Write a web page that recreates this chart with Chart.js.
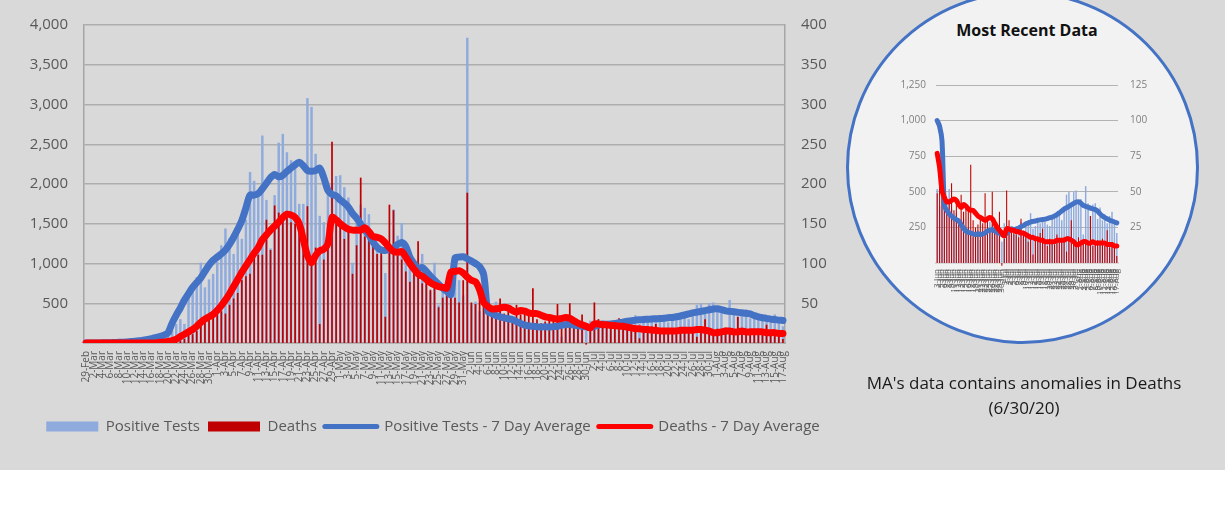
<!DOCTYPE html>
<html>
<head>
<meta charset="utf-8">
<script src="https://cdn.jsdelivr.net/npm/chart.js@4.4.1/dist/chart.umd.min.js"></script>
<style>
html,body{margin:0;padding:0;background:#fff;}
#stage{position:relative;width:1225px;height:505px;overflow:hidden;background:#fff;}
#bg{position:absolute;left:0;top:0;width:1225px;height:470px;background:#d9d9d9;}
#main{position:absolute;left:0;top:0;}
#circle{position:absolute;left:846px;top:-9px;width:353px;height:353px;border-radius:50%;background:#f2f2f2;border:3px solid #4472c4;box-sizing:border-box;}
#insetTitle{position:absolute;left:877px;width:300px;top:19px;text-align:center;font-family:'Open Sans',sans-serif;font-weight:bold;font-size:16px;color:#111;line-height:22px;}
#inset{position:absolute;left:880px;top:60px;}
#caption{position:absolute;left:824px;width:400px;top:370px;text-align:center;font-family:'Open Sans',sans-serif;font-size:17px;color:#1a1a1a;line-height:25px;}
</style>
</head>
<body>
<div id="stage">
  <div id="bg"></div>
  <canvas id="main" width="840" height="470" style="width:840px;height:470px"></canvas>
  <div id="circle"></div>
  <div id="insetTitle">Most Recent Data</div>
  <canvas id="inset" width="300" height="260" style="width:300px;height:260px"></canvas>
  <div id="caption">MA's data contains anomalies in Deaths<br>(6/30/20)</div>
</div>
<script>
// ---- categories: daily dates 29-Feb .. 17-Aug ----
const monthNames = ['Feb','Mar','Apr','May','Jun','Jul','Aug'];
const monthStartDay = [29,1,1,1,1,1,1];
const monthEndDay = [29,31,30,31,30,31,17];
const dateLabels = [];
for (let m = 0; m < monthNames.length; m++) {
  for (let d = monthStartDay[m]; d <= monthEndDay[m]; d++) dateLabels.push(d + '-' + monthNames[m]);
}

// ---- series ----
const positiveTests = [
  0,0,1,0,1,2,5,8,10,15,
  20,25,25,30,40,60,50,70,100,110,
  130,150,240,300,240,680,670,830,1010,700,
  800,870,1020,1230,1440,1320,1120,1400,1310,1550,
  2150,2040,1860,2610,1800,1190,1860,2520,2630,2400,
  2300,2220,1750,1750,3080,2970,2380,1600,1520,1860,
  2000,2100,2110,1960,1830,1010,1500,1740,1700,1620,
  1310,1250,1100,880,1200,1680,1350,1510,1200,1050,
  900,950,1120,870,650,1010,475,720,640,590,
  800,790,600,3840,480,520,400,570,570,440,
  520,380,330,350,300,260,310,220,250,200,
  180,210,230,160,220,190,80,290,270,240,
  200,170,150,280,240,250,210,200,260,220,
  290,230,270,300,350,240,260,310,280,300,
  320,270,260,330,310,340,360,300,400,480,
  500,420,500,510,440,450,200,540,420,330,
  410,420,310,390,300,340,280,330,360,280,
  210
];
const deaths = [
  0,0,0,0,0,0,0,0,0,0,
  0,0,0,0,0,0,0,0,0,1,
  1,2,4,3,5,10,11,15,25,26,
  30,33,36,40,37,48,56,63,79,84,
  87,111,111,111,155,117,173,164,160,162,
  152,150,149,145,172,99,120,24,105,150,
  253,150,150,131,143,87,123,208,134,140,
  138,112,115,33,174,167,110,105,90,77,
  90,128,75,80,67,72,45,57,61,71,
  57,51,79,189,51,49,71,55,37,36,
  42,56,37,43,31,48,36,40,38,69,
  30,25,27,33,28,49,30,24,50,22,
  26,36,-2,17,51,30,23,25,20,18,
  31,22,18,15,20,6,16,18,21,24,
  15,12,17,14,13,20,16,15,18,8,
  16,30,14,12,18,13,16,14,15,33,
  12,14,16,13,17,12,23,11,14,13,
  5
];
const positiveAvg = [
  0,0,1,1,2,3,4,6,8,10,
  14,18,22,28,35,45,55,68,82,100,
  130,250,350,440,540,620,700,760,820,900,
  980,1040,1080,1120,1170,1240,1330,1430,1540,1700,
  1860,1860,1880,1940,2010,2080,2120,2090,2110,2160,
  2200,2240,2275,2230,2170,2160,2170,2200,2080,1920,
  1870,1850,1800,1760,1710,1630,1570,1495,1420,1360,
  1270,1205,1170,1165,1175,1190,1240,1265,1215,1080,
  1000,940,950,900,840,790,740,690,650,610,
  1070,1080,1085,1060,1030,1000,960,860,400,370,
  345,330,315,305,295,270,245,225,215,210,
  205,200,205,200,205,210,225,230,235,225,
  215,210,200,195,210,225,240,235,238,245,
  255,262,275,280,288,292,295,300,303,305,
  308,312,318,322,330,340,352,365,378,388,
  398,408,418,428,430,420,405,398,392,385,
  380,375,365,345,330,318,310,300,295,288,
  282
];
const deathsAvg = [
  0,0,0,0,0,0,0,0,0,0,
  0,0,0,0,0,0,0,0,1,1,
  2,3,5,8,11,14,17,21,26,30,
  33,36,41,47,54,62,71,80,89,97,
  105,113,120,130,136,142,147,152,158,162,
  161,158,150,130,110,101,110,116,118,125,
  158,155,150,146,143,142,142,142,145,140,
  134,133,131,126,120,115,114,115,108,100,
  93,87,84,80,76,73,71,70,69,89,
  90,91,88,83,79,77,67,51,46,43,
  43,44,45,44,41,39,41,40,38,37,
  37,35,33,32,31,30,31,32,31,28,
  25,23,21,19,24,24,23,23,22,22,
  21,21,20,19,18,18,17,17,16,16,
  15,15,15,15,15,16,16,16,16,17,
  17,16,15,13,13,14,15,15,14,14,
  15,14,14,14,14,14,13,13,13,12,
  12
];
// tick settings
const leftTicksMax = 4000, leftStep = 500, rightTicksMax = 400, rightStep = 50;
const insetLeftMax = 1250, insetLeftStep = 250, insetRightMax = 125, insetRightStep = 25;
const insetStart = dateLabels.indexOf('3-Jun');

const FONT = "'Open Sans', sans-serif";
Chart.defaults.font.family = FONT;
Chart.defaults.color = '#595959';

const fmt = v => v === 0 ? '' : Number(v).toLocaleString('en-US');
const GRID = '#adadad';
const AXIS = '#a6a6a6';

const legendLabels = (chart) => {
  const items = Chart.defaults.plugins.legend.labels.generateLabels(chart);
  items.forEach(it => {
    const ds = chart.data.datasets[it.datasetIndex];
    if (ds.type === 'line') { it.lineWidth = 5; it.lineCap = 'round'; }
    else { it.lineWidth = 0; }
  });
  return items;
};

new Chart(document.getElementById('main'), {
  data: {
    labels: dateLabels,
    datasets: [
      { type: 'bar', label: 'Positive Tests', data: positiveTests, yAxisID: 'y',
        backgroundColor: '#8faadc', borderWidth: 0, grouped: false,
        barPercentage: 0.6, categoryPercentage: 1, order: 4, pointStyle: 'rect' },
      { type: 'bar', label: 'Deaths', data: deaths, yAxisID: 'y1',
        backgroundColor: '#c00000', borderWidth: 0, grouped: false,
        barPercentage: 0.42, categoryPercentage: 1, order: 3, pointStyle: 'rect',
        clip: { left: 0, top: 0, right: 0, bottom: 4 } },
      { type: 'line', label: 'Positive Tests - 7 Day Average', data: positiveAvg, yAxisID: 'y',
        borderColor: '#4472c4', backgroundColor: '#4472c4', borderWidth: 7, pointRadius: 0,
        tension: 0.3, borderCapStyle: 'round', borderJoinStyle: 'round', order: 2, pointStyle: 'line' },
      { type: 'line', label: 'Deaths - 7 Day Average', data: deathsAvg, yAxisID: 'y1',
        borderColor: '#ff0000', backgroundColor: '#ff0000', borderWidth: 7, pointRadius: 0,
        tension: 0.3, borderCapStyle: 'round', borderJoinStyle: 'round', order: 1, pointStyle: 'line' }
    ]
  },
  options: {
    responsive: false, animation: false, devicePixelRatio: 1,
    layout: { padding: { top: 7, left: 26, right: 0, bottom: 26 } },
    plugins: {
      tooltip: { enabled: false },
      legend: {
        position: 'bottom',
        labels: {
          usePointStyle: true, pointStyleWidth: 52, boxHeight: 10, padding: 8,
          color: '#595959', font: { family: FONT, size: 15 },
          sort: (a, b) => a.datasetIndex - b.datasetIndex,
          generateLabels: legendLabels
        }
      }
    },
    scales: {
      x: {
        grid: { display: false, drawTicks: false },
        border: { display: true, color: AXIS, width: 1.5 },
        ticks: { autoSkip: false, maxRotation: 90, minRotation: 90, padding: 8,
          color: '#595959', font: { family: FONT, size: 10 },
          callback: (v, i) => (i % 2 === 0 ? dateLabels[i] : '') },
        afterFit: s => { s.height = 68; }
      },
      y: {
        position: 'left', min: 0, max: leftTicksMax,
        ticks: { stepSize: leftStep, callback: fmt, padding: 16, color: '#595959', font: { family: FONT, size: 15 } },
        grid: { color: GRID, lineWidth: 1.5, drawTicks: false },
        border: { color: AXIS, width: 1.5 },
        afterFit: s => { s.width = 58; }
      },
      y1: {
        position: 'right', min: 0, max: rightTicksMax,
        ticks: { stepSize: rightStep, callback: fmt, padding: 16, color: '#595959', font: { family: FONT, size: 15 } },
        grid: { display: false, drawTicks: false },
        border: { color: AXIS, width: 1.5 },
        afterFit: s => { s.width = 55; }
      }
    }
  }
});

// ---- inset: most recent data ----
const insetLabels = dateLabels.slice(insetStart);
new Chart(document.getElementById('inset'), {
  data: {
    labels: insetLabels,
    datasets: [
      { type: 'bar', data: positiveTests.slice(insetStart), yAxisID: 'y',
        backgroundColor: '#8faadc', borderWidth: 0, grouped: false,
        barPercentage: 0.6, categoryPercentage: 1, order: 4 },
      { type: 'bar', data: deaths.slice(insetStart), yAxisID: 'y1',
        backgroundColor: '#c00000', borderWidth: 0, grouped: false,
        barPercentage: 0.45, categoryPercentage: 1, order: 3,
        clip: { left: 0, top: 0, right: 0, bottom: 3 } },
      { type: 'line', data: positiveAvg.slice(insetStart), yAxisID: 'y',
        borderColor: '#4472c4', borderWidth: 5, pointRadius: 0, tension: 0.3,
        borderCapStyle: 'round', borderJoinStyle: 'round', order: 2 },
      { type: 'line', data: deathsAvg.slice(insetStart), yAxisID: 'y1',
        borderColor: '#ff0000', borderWidth: 5, pointRadius: 0, tension: 0.3,
        borderCapStyle: 'round', borderJoinStyle: 'round', order: 1 }
    ]
  },
  options: {
    responsive: false, animation: false, devicePixelRatio: 1,
    layout: { padding: { top: 25, left: 0, right: 0, bottom: 0 } },
    plugins: { legend: { display: false }, tooltip: { enabled: false } },
    scales: {
      x: {
        grid: { display: false, drawTicks: false },
        border: { display: true, color: '#d9d9d9', width: 2 },
        ticks: { autoSkip: false, maxRotation: 90, minRotation: 90, padding: 6,
          color: '#595959', font: { family: FONT, size: 8 } },
        afterFit: s => { s.height = 57; }
      },
      y: {
        position: 'left', min: 0, max: insetLeftMax,
        ticks: { stepSize: insetLeftStep, callback: fmt, padding: 10, color: '#7f7f7f', font: { family: FONT, size: 10 } },
        grid: { color: '#b3b3b3', lineWidth: 1, drawTicks: false },
        border: { display: false },
        afterFit: s => { s.width = 56; }
      },
      y1: {
        position: 'right', min: 0, max: insetRightMax,
        ticks: { stepSize: insetRightStep, callback: fmt, padding: 12, color: '#7f7f7f', font: { family: FONT, size: 10 } },
        grid: { display: false, drawTicks: false },
        border: { display: false },
        afterFit: s => { s.width = 62; }
      }
    }
  }
});
</script>
</body>
</html>
